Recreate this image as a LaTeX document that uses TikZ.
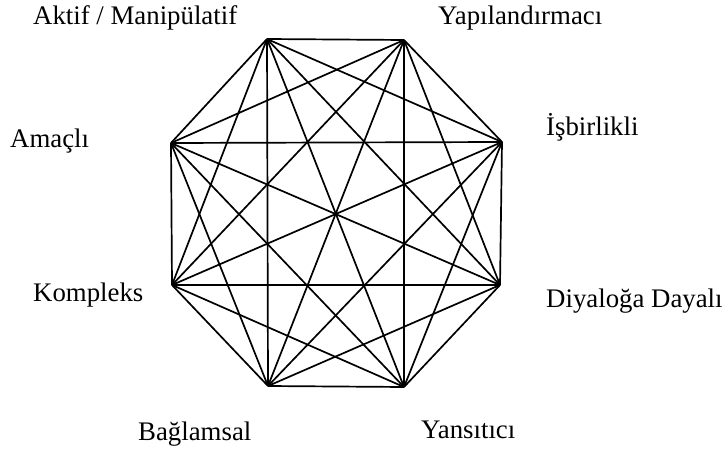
\documentclass[tikz,border=0pt]{standalone}
\usepackage{fontspec}
\setmainfont{Liberation Serif}
\begin{document}
\begin{tikzpicture}[x=1pt,y=1pt,
  lbl/.style={anchor=base west,inner sep=0pt,font=\fontsize{26.8}{30}\selectfont},
  edge/.style={line width=1.7pt,black}]
\useasboundingbox (0,0) rectangle (722,450);
% vertices (y = 450 - image y)
\coordinate (v1) at (267,411);
\coordinate (v2) at (404,410);
\coordinate (v3) at (502,308);
\coordinate (v4) at (500,165);
\coordinate (v5) at (404,63);
\coordinate (v6) at (268,64);
\coordinate (v7) at (172,165);
\coordinate (v8) at (171,307);
\foreach \i in {1,...,8}{
  \foreach \j in {1,...,8}{
    \ifnum\i<\j
      \draw[edge] (v\i) -- (v\j);
    \fi
  }
}
% labels
\node[lbl] (l1) at (33,425) {Aktif / Manipülatif};
\node[lbl] (l2) at (438,425) {Yapılandırmacı};
\node[lbl] (l3) at (10,302) {Amaçlı};
\node[lbl] (l4) at (546,314) {İşbirlikli};
\node[lbl] (l5) at (33,149) {Kompleks};
\node[lbl] (l6) at (546,143) {Diyaloğa Dayalı};
\node[lbl] (l7) at (138,10) {Bağlamsal};
\node[lbl] (l8) at (421,12) {Yansıtıcı};
\end{tikzpicture}
\end{document}
